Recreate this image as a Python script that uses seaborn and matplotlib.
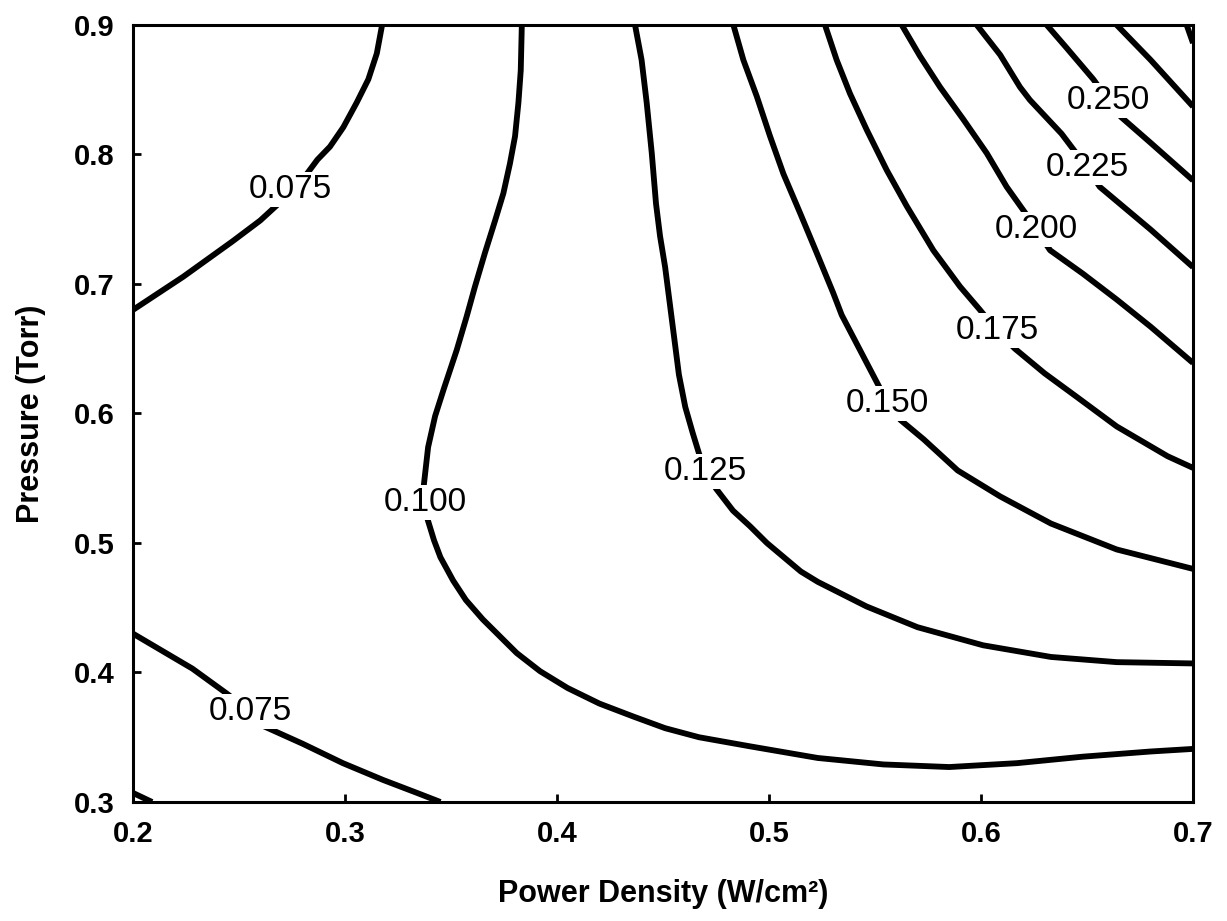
import numpy as np
import pandas as pd
import matplotlib
matplotlib.use("Agg")
import matplotlib.pyplot as plt
import seaborn as sns

# Iso-lines of the response over power density (W/cm^2) and pressure (Torr),
# traced as (power, pressure) pairs; each line is listed from one end to the other.
P050 = [0.200, 0.209]
T050 = [0.307, 0.300]

P075_UPPER = [0.3175, 0.3150, 0.3110, 0.3055, 0.2992, 0.2929, 0.287, 0.282,
              0.274, 0.268, 0.260, 0.247, 0.2237, 0.200]
T075_UPPER = [0.900, 0.878, 0.858, 0.840, 0.821, 0.806, 0.796, 0.785,
              0.773, 0.761, 0.749, 0.733, 0.7056, 0.680]

P075_LOWER = [0.200, 0.228, 0.244, 0.2552, 0.261, 0.280, 0.299, 0.318,
              0.334, 0.345]
T075_LOWER = [0.430, 0.403, 0.384, 0.370, 0.359, 0.345, 0.330, 0.317,
              0.307, 0.300]

P100 = [0.3834, 0.3829, 0.3818, 0.3802, 0.3778, 0.3747, 0.3708, 0.3660, 0.3613,
        0.3574, 0.3527, 0.3466, 0.3425, 0.3392, 0.3372, 0.338, 0.339, 0.342,
        0.345, 0.351, 0.357, 0.365, 0.373, 0.381, 0.392, 0.405, 0.420, 0.436,
        0.451, 0.467, 0.491, 0.523, 0.554, 0.585, 0.617, 0.648, 0.680, 0.700]
T100 = [0.900, 0.865, 0.840, 0.814, 0.793, 0.770, 0.749, 0.724, 0.698,
        0.675, 0.649, 0.619, 0.598, 0.574, 0.545, 0.531, 0.518, 0.502,
        0.489, 0.471, 0.456, 0.441, 0.428, 0.415, 0.401, 0.388, 0.376, 0.366,
        0.357, 0.350, 0.343, 0.334, 0.329, 0.327, 0.330, 0.335, 0.339, 0.341]

P125 = [0.4368, 0.4399, 0.4423, 0.4447, 0.4467, 0.4486, 0.451, 0.455, 0.4575,
        0.4605, 0.464, 0.467, 0.470, 0.475, 0.483, 0.491, 0.499, 0.507, 0.515,
        0.523, 0.546, 0.570, 0.601, 0.633, 0.664, 0.700]
T125 = [0.900, 0.873, 0.840, 0.801, 0.762, 0.737, 0.713, 0.662, 0.630,
        0.605, 0.585, 0.569, 0.555, 0.542, 0.525, 0.513, 0.500, 0.489, 0.478,
        0.470, 0.451, 0.435, 0.421, 0.412, 0.408, 0.407]

P150 = [0.4832, 0.4879, 0.4942, 0.5005, 0.5068, 0.5146, 0.5225, 0.5303, 0.5343,
        0.556, 0.562, 0.573, 0.589, 0.609, 0.633, 0.664, 0.700]
T150 = [0.900, 0.873, 0.845, 0.814, 0.785, 0.755, 0.724, 0.693, 0.676,
        0.608, 0.595, 0.580, 0.556, 0.536, 0.515, 0.495, 0.480]

P175 = [0.5264, 0.5319, 0.5382, 0.5461, 0.5555, 0.5650, 0.5775, 0.5901, 0.5995,
        0.6075, 0.616, 0.630, 0.645, 0.664, 0.688, 0.700]
T175 = [0.900, 0.873, 0.847, 0.819, 0.788, 0.760, 0.726, 0.698, 0.680,
        0.664, 0.650, 0.631, 0.613, 0.590, 0.567, 0.558]

P200 = [0.5626, 0.5712, 0.5807, 0.5917, 0.6027, 0.6121, 0.6208, 0.626, 0.6326,
        0.648, 0.664, 0.680, 0.700]
T200 = [0.900, 0.876, 0.852, 0.827, 0.801, 0.775, 0.755, 0.742, 0.726,
        0.708, 0.688, 0.667, 0.639]

P225 = [0.598, 0.609, 0.6184, 0.6231, 0.638, 0.650, 0.656, 0.680, 0.700]
T225 = [0.900, 0.877, 0.852, 0.842, 0.816, 0.790, 0.775, 0.742, 0.713]

P250 = [0.631, 0.640, 0.653, 0.660, 0.666, 0.680, 0.700]
T250 = [0.900, 0.883, 0.858, 0.842, 0.829, 0.809, 0.780]

P275 = [0.664, 0.680, 0.700]
T275 = [0.900, 0.873, 0.837]

P300 = [0.697, 0.700]
T300 = [0.900, 0.886]

# (level, power, pressure, index of the traced point that carries the inline label)
CURVES = [
    (0.050, P050, T050, None),
    (0.075, P075_UPPER, T075_UPPER, 8),
    (0.075, P075_LOWER, T075_LOWER, 3),
    (0.100, P100, T100, 15),
    (0.125, P125, T125, 12),
    (0.150, P150, T150, 9),
    (0.175, P175, T175, 9),
    (0.200, P200, T200, 7),
    (0.225, P225, T225, 5),
    (0.250, P250, T250, 3),
    (0.275, P275, T275, None),
    (0.300, P300, T300, None),
]

X_TICKS = [0.2, 0.3, 0.4, 0.5, 0.6, 0.7]
Y_TICKS = [0.3, 0.4, 0.5, 0.6, 0.7, 0.8, 0.9]

rows = []
for k, (level, px, py, _) in enumerate(CURVES):
    for i, (a, b) in enumerate(zip(px, py)):
        rows.append({"curve": k, "level": level, "order": i,
                     "power": a, "pressure": b})
df = pd.DataFrame(rows)

sns.set_theme(style="ticks")
plt.rcParams["font.family"] = ["Liberation Sans", "DejaVu Sans"]

fig = plt.figure(figsize=(12.27, 9.21), dpi=100)
ax = fig.add_axes([0.1084, 0.1292, 0.8639, 0.8437])

sns.lineplot(data=df, x="power", y="pressure", units="curve", estimator=None,
             sort=False, color="black", linewidth=4.2, legend=False, ax=ax,
             solid_capstyle="butt", solid_joinstyle="round")

for level, px, py, idx in CURVES:
    if idx is None:
        continue
    ax.text(px[idx], py[idx], f"{level:.3f}", ha="center", va="center",
            fontsize=24, color="black", zorder=5,
            bbox=dict(boxstyle="square,pad=0.06", fc="white", ec="none"))

ax.set_xlim(X_TICKS[0], X_TICKS[-1])
ax.set_ylim(Y_TICKS[0], Y_TICKS[-1])
ax.set_xticks(X_TICKS)
ax.set_yticks(Y_TICKS)
ax.set_xticklabels([f"{v:.1f}" for v in X_TICKS])
ax.set_yticklabels([f"{v:.1f}" for v in Y_TICKS])

for side in ["top", "right", "bottom", "left"]:
    ax.spines[side].set_visible(True)
    ax.spines[side].set_linewidth(2.2)
    ax.spines[side].set_color("black")

ax.tick_params(axis="both", direction="in", length=6, width=2.0,
               labelsize=21, pad=13, colors="black")
for lab in ax.get_xticklabels() + ax.get_yticklabels():
    lab.set_fontweight("bold")

ax.set_xlabel("Power Density (W/cm²)", fontsize=22, fontweight="bold",
              color="black", labelpad=22)
ax.set_ylabel("Pressure (Torr)", fontsize=22, fontweight="bold",
              color="black", labelpad=20)

fig.savefig("out.png", dpi=100, facecolor="white")
